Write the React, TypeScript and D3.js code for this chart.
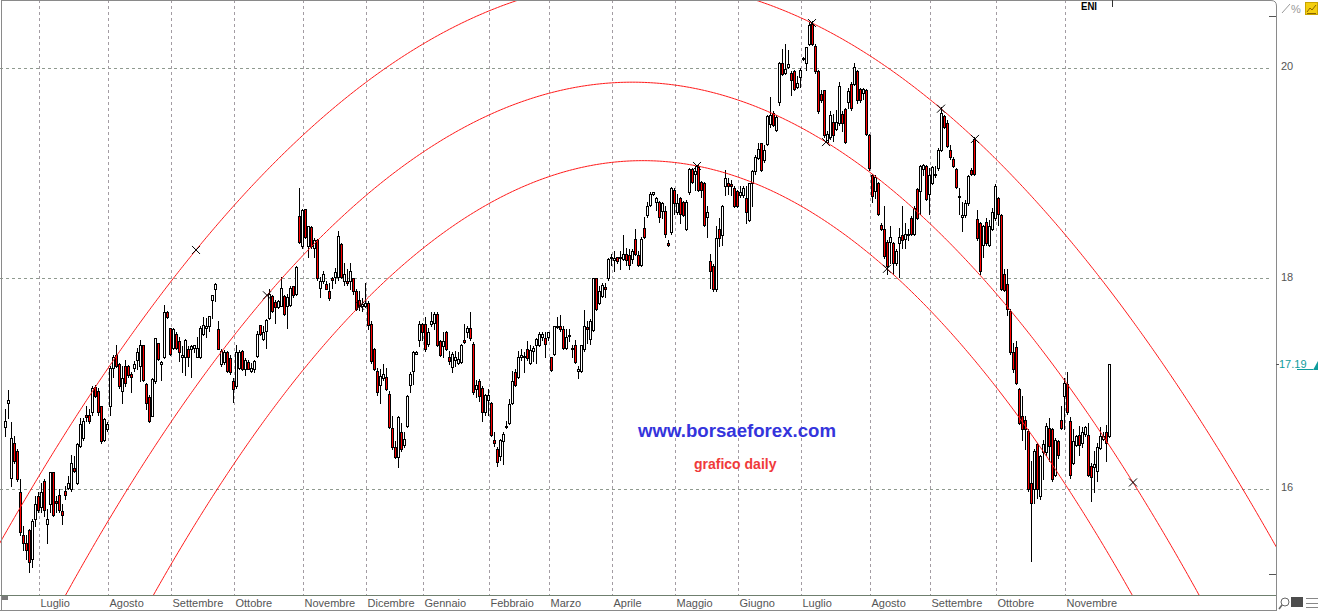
import React from 'react';
import * as d3 from 'd3';

// Daily candles [open, high, low, close], one per trading day (index 0 = first visible bar)
const CANDLES: [number, number, number, number][] = [
[16.59,16.76,16.51,16.65],[16.82,16.94,16.68,16.85],[16.11,16.64,16.03,16.49],[16.44,16.51,16.25,16.27],
[16.36,16.38,16.08,16.10],[15.97,16.10,15.57,15.59],[15.57,15.65,15.42,15.49],[15.49,15.57,15.34,15.42],
[15.61,15.62,15.21,15.31],[15.34,15.72,15.26,15.70],[15.72,15.94,15.65,15.86],[15.94,15.97,15.78,15.80],
[15.83,16.06,15.78,15.97],[16.08,16.10,15.75,15.80],[15.67,15.81,15.49,15.72],[15.86,16.16,15.78,16.16],
[16.16,16.16,15.75,15.76],[15.89,15.94,15.78,15.87],[15.95,16.00,15.78,15.80],[15.79,15.86,15.67,15.76],
[15.98,16.03,15.91,15.95],[16.01,16.13,16.00,16.06],[16.00,16.33,15.98,16.25],[16.20,16.32,16.16,16.17],
[16.06,16.44,16.05,16.43],[16.41,16.68,16.40,16.62],[16.49,16.68,16.47,16.65],[16.71,16.79,16.65,16.69],
[16.71,16.76,16.63,16.65],[16.73,16.98,16.71,16.96],[16.97,16.99,16.88,16.89],[16.93,16.96,16.71,16.73],
[16.79,16.79,16.44,16.46],[16.47,16.68,16.46,16.67],[16.57,16.64,16.55,16.62],[16.79,17.17,16.71,17.15],
[17.15,17.28,17.07,17.26],[17.28,17.37,17.16,17.17],[17.19,17.20,16.96,16.98],[16.93,17.17,16.82,17.06],
[17.17,17.23,16.98,17.01],[17.17,17.18,17.07,17.09],[17.10,17.11,16.92,17.07],[17.15,17.22,17.12,17.19],
[17.23,17.34,17.14,17.30],[17.17,17.42,17.03,17.37],[17.37,17.37,17.03,17.04],[17.00,17.01,16.76,16.82],
[16.88,16.90,16.64,16.65],[16.70,17.06,16.70,17.05],[17.03,17.44,17.01,17.44],[17.39,17.39,17.23,17.24],
[17.19,17.22,17.04,17.21],[17.26,17.75,17.25,17.68],[17.68,17.69,17.63,17.64],[17.53,17.53,17.28,17.29],
[17.34,17.53,17.33,17.52],[17.48,17.49,17.33,17.34],[17.41,17.45,17.22,17.30],[17.26,17.36,17.11,17.28],
[17.26,17.43,17.09,17.42],[17.33,17.36,17.17,17.26],[17.33,17.37,17.07,17.36],[17.34,17.37,17.30,17.37],
[17.26,17.45,17.26,17.34],[17.26,17.55,17.25,17.53],[17.48,17.64,17.47,17.56],[17.53,17.63,17.45,17.55],
[17.55,17.65,17.50,17.65],[17.80,17.85,17.63,17.85],[17.90,17.96,17.79,17.95],[17.52,17.60,17.33,17.33],
[17.19,17.33,17.17,17.31],[17.21,17.32,17.19,17.30],[17.30,17.31,17.11,17.12],[17.25,17.28,17.10,17.11],
[17.03,17.06,16.83,16.95],[16.98,17.37,16.96,17.30],[17.15,17.32,17.14,17.30],[17.31,17.32,17.13,17.14],
[17.14,17.25,17.09,17.23],[17.21,17.23,17.14,17.14],[17.12,17.20,17.11,17.15],[17.14,17.23,17.11,17.22],
[17.27,17.50,17.26,17.48],[17.56,17.56,17.47,17.48],[17.43,17.55,17.42,17.49],[17.50,17.62,17.34,17.61],
[17.63,17.90,17.62,17.86],[17.84,17.85,17.68,17.69],[17.78,17.80,17.58,17.73],[17.73,17.80,17.72,17.79],
[17.74,18.02,17.74,17.91],[17.84,17.85,17.66,17.67],[17.74,17.86,17.53,17.83],[17.75,17.93,17.74,17.91],
[17.93,17.93,17.83,17.85],[17.86,18.12,17.85,18.11],[18.60,18.86,18.34,18.35],[18.31,18.66,18.29,18.65],
[18.66,18.66,18.39,18.40],[18.31,18.50,18.21,18.50],[18.49,18.50,18.29,18.31],[18.29,18.39,18.21,18.37],
[18.37,18.38,17.99,18.01],[17.91,18.02,17.83,17.98],[17.98,18.07,17.96,18.05],[17.95,17.98,17.90,17.90],
[17.88,17.96,17.80,17.82],[18.01,18.02,17.91,17.99],[18.02,18.10,17.96,18.06],[18.02,18.45,17.99,18.41],
[18.33,18.34,18.01,18.02],[17.98,18.15,17.94,18.05],[17.98,18.09,17.94,17.96],[17.98,18.15,17.90,18.07],
[18.01,18.01,17.86,17.88],[17.88,17.90,17.70,17.71],[17.80,17.88,17.70,17.74],[17.74,17.82,17.69,17.76],
[17.74,17.96,17.73,17.77],[17.77,17.79,17.52,17.56],[17.57,17.60,17.20,17.22],[17.33,17.34,17.13,17.14],
[17.12,17.15,16.90,16.92],[16.99,17.14,16.82,17.08],[17.06,17.19,17.04,17.10],[17.07,17.15,16.94,16.95],
[16.91,16.93,16.58,16.59],[16.58,16.70,16.38,16.40],[16.40,16.46,16.30,16.31],[16.31,16.70,16.21,16.69],
[16.54,16.63,16.36,16.38],[16.42,16.54,16.40,16.48],[16.60,16.90,16.59,16.89],[16.99,17.11,16.92,17.10],
[17.12,17.31,17.00,17.30],[17.29,17.31,17.29,17.30],[17.42,17.60,17.36,17.57],[17.57,17.58,17.42,17.49],
[17.57,17.64,17.31,17.33],[17.38,17.53,17.36,17.49],[17.57,17.68,17.55,17.60],[17.58,17.68,17.52,17.67],
[17.67,17.68,17.36,17.37],[17.41,17.42,17.27,17.28],[17.36,17.49,17.26,17.41],[17.49,17.50,17.32,17.33],
[17.26,17.31,17.19,17.22],[17.16,17.30,17.11,17.29],[17.23,17.31,17.17,17.26],[17.20,17.30,17.19,17.24],
[17.21,17.38,17.20,17.37],[17.42,17.57,17.39,17.40],[17.49,17.55,17.45,17.53],[17.53,17.68,17.42,17.44],
[17.38,17.40,16.91,16.92],[16.95,17.04,16.88,16.99],[17.03,17.05,16.84,16.89],[16.96,16.98,16.65,16.73],
[16.73,16.91,16.71,16.90],[16.85,16.95,16.71,16.90],[16.82,16.83,16.51,16.52],[16.47,16.54,16.41,16.44],
[16.38,16.40,16.22,16.26],[16.32,16.48,16.28,16.47],[16.46,16.54,16.24,16.53],[16.59,16.65,16.58,16.60],
[16.63,16.86,16.62,16.81],[16.82,17.12,16.81,17.03],[17.11,17.14,16.98,16.99],[17.07,17.31,17.06,17.26],
[17.26,17.33,17.23,17.28],[17.26,17.30,17.11,17.27],[17.33,17.41,17.23,17.25],[17.20,17.37,17.19,17.32],
[17.31,17.36,17.22,17.34],[17.37,17.44,17.20,17.43],[17.37,17.49,17.36,17.48],[17.45,17.49,17.42,17.48],
[17.44,17.49,17.26,17.38],[17.45,17.49,17.42,17.49],[17.26,17.26,17.12,17.13],[17.29,17.55,17.28,17.55],
[17.54,17.64,17.53,17.55],[17.55,17.66,17.50,17.52],[17.52,17.55,17.33,17.34],[17.34,17.52,17.33,17.45],
[17.46,17.52,17.41,17.47],[17.34,17.37,17.26,17.33],[17.37,17.42,17.20,17.21],[17.12,17.17,17.06,17.14],
[17.12,17.37,17.11,17.37],[17.33,17.70,17.31,17.55],[17.54,17.60,17.39,17.52],[17.43,17.62,17.38,17.60],
[17.51,18.01,17.50,18.01],[18.01,18.01,17.70,17.71],[17.77,17.93,17.76,17.88],[17.84,17.96,17.83,17.94],
[17.92,17.96,17.83,17.90],[18.01,18.20,17.99,18.19],[18.20,18.24,18.13,18.21],[18.18,18.26,18.07,18.20],
[18.21,18.21,18.15,18.17],[18.20,18.26,18.09,18.21],[18.19,18.42,18.18,18.24],[18.24,18.29,18.13,18.18],
[18.23,18.28,18.09,18.13],[18.19,18.28,18.15,18.26],[18.38,18.47,18.23,18.24],[18.23,18.26,18.12,18.13],
[18.13,18.40,18.12,18.38],[18.48,18.59,18.39,18.40],[18.61,18.73,18.59,18.69],[18.70,18.82,18.69,18.81],
[18.81,18.82,18.80,18.82],[18.73,18.78,18.65,18.77],[18.73,18.74,18.54,18.59],[18.64,18.73,18.58,18.72],
[18.64,18.69,18.40,18.43],[18.34,18.37,18.31,18.32],[18.44,18.87,18.43,18.86],[18.84,18.86,18.62,18.72],
[18.63,18.81,18.62,18.72],[18.77,18.78,18.53,18.62],[18.73,18.74,18.60,18.61],[18.47,18.75,18.46,18.73],
[18.82,19.05,18.81,19.04],[19.04,19.05,18.91,18.92],[19.00,19.07,18.84,19.02],[19.07,19.09,18.83,18.84],
[18.92,18.93,18.78,18.84],[18.91,18.92,18.50,18.51],[18.59,18.69,18.40,18.63],[18.17,18.24,17.91,18.07],
[18.12,18.14,17.88,17.90],[17.90,18.50,17.88,18.39],[18.47,18.58,18.31,18.39],[18.42,18.70,18.32,18.69],
[18.88,19.03,18.80,18.96],[18.91,18.96,18.81,18.88],[18.90,18.94,18.80,18.88],[18.86,18.88,18.68,18.69],
[18.83,18.84,18.68,18.69],[18.80,18.88,18.78,18.82],[18.80,18.88,18.78,18.86],[18.77,18.88,18.53,18.63],
[18.56,18.91,18.55,18.91],[18.91,19.03,18.69,19.02],[19.02,19.18,19.00,19.16],[19.15,19.29,19.14,19.23],
[19.29,19.29,19.02,19.03],[19.13,19.27,19.11,19.22],[19.28,19.56,19.27,19.55],[19.47,19.73,19.44,19.56],
[19.58,19.59,19.45,19.46],[19.41,19.56,19.40,19.54],[19.68,20.06,19.65,20.05],[20.05,20.18,19.94,19.95],
[19.96,20.23,19.95,19.99],[20.01,20.17,20.00,20.04],[19.96,19.97,19.75,19.89],[19.97,19.98,19.79,19.80],
[19.82,19.93,19.81,19.86],[19.92,20.00,19.82,19.98],[20.09,20.11,20.08,20.10],[20.05,20.20,19.98,20.20],
[20.23,20.44,20.22,20.41],[20.42,20.45,20.22,20.23],[20.21,20.23,19.96,19.97],[19.97,19.98,19.58,19.59],
[19.76,19.79,19.68,19.70],[19.79,19.79,19.35,19.37],[19.30,19.40,19.29,19.38],[19.35,19.59,19.33,19.56],
[19.49,19.57,19.31,19.37],[19.42,19.60,19.41,19.49],[19.48,19.87,19.46,19.83],[19.57,19.59,19.40,19.48],
[19.61,19.62,19.29,19.30],[19.68,19.81,19.62,19.78],[19.85,19.87,19.60,19.62],[19.85,20.05,19.84,20.01],
[19.97,19.98,19.67,19.70],[19.80,19.81,19.68,19.70],[19.77,19.81,19.71,19.80],[19.79,19.80,19.37,19.38],
[19.37,19.38,19.03,19.05],[18.99,19.00,18.73,18.79],[18.83,18.99,18.77,18.97],[18.91,18.92,18.61,18.62],
[18.51,18.53,18.46,18.47],[18.47,18.69,18.20,18.22],[18.35,18.37,18.05,18.12],[18.35,18.50,18.15,18.40],
[18.34,18.35,18.05,18.15],[18.15,18.28,18.13,18.26],[18.34,18.48,18.02,18.40],[18.42,18.69,18.29,18.37],
[18.38,18.53,18.29,18.43],[18.42,18.47,18.37,18.43],[18.58,18.60,18.42,18.43],[18.43,18.69,18.42,18.67],
[18.85,18.86,18.57,18.58],[18.83,19.08,18.62,19.07],[19.04,19.09,18.99,19.08],[19.07,19.08,18.75,18.76],
[18.81,19.05,18.62,18.99],[18.91,19.07,18.90,19.06],[19.00,19.07,18.97,18.99],[19.05,19.24,19.03,19.22],
[19.22,19.63,19.21,19.58],[19.55,19.56,19.43,19.44],[19.48,19.51,19.25,19.26],[19.22,19.27,19.14,19.16],
[19.14,19.16,19.06,19.07],[19.04,19.05,18.86,18.87],[18.79,18.86,18.62,18.78],[18.59,18.73,18.45,18.61],
[18.61,18.75,18.59,18.72],[18.72,18.99,18.70,18.98],[19.03,19.05,18.99,19.00],[19.33,19.35,18.99,19.00],
[18.57,18.65,18.37,18.39],[18.53,18.54,18.05,18.07],[18.32,18.51,18.21,18.50],[18.54,18.58,18.32,18.34],
[18.32,18.56,18.31,18.50],[18.47,18.67,18.46,18.63],[18.58,18.90,18.56,18.88],[18.77,18.78,18.51,18.62],
[18.61,18.62,17.89,17.90],[18.05,18.09,17.88,17.89],[17.95,18.09,17.66,17.71],[17.69,17.71,17.29,17.30],
[17.30,17.39,17.11,17.14],[17.35,17.41,17.00,17.01],[16.95,16.96,16.62,16.63],[16.70,16.89,16.47,16.57],
[16.66,16.70,16.38,16.57],[16.55,16.57,15.98,16.00],[16.06,16.27,15.32,15.87],[16.00,16.38,15.87,16.36],
[16.43,16.44,15.92,16.00],[15.94,16.33,15.91,16.32],[16.35,16.47,16.10,16.43],[16.35,16.63,16.33,16.60],
[16.58,16.68,16.27,16.41],[16.57,16.58,16.08,16.10],[16.14,16.49,16.13,16.47],[16.46,16.47,16.30,16.33],
[16.66,16.79,16.57,16.58],[16.89,17.06,16.57,17.01],[17.00,17.11,16.72,16.73],[16.65,16.69,16.11,16.14],
[16.25,16.57,16.24,16.46],[16.42,16.52,16.41,16.51],[16.52,16.60,16.33,16.42],[16.44,16.59,16.40,16.54],
[16.53,16.60,16.51,16.59],[16.52,16.63,16.13,16.14],[16.22,16.25,15.89,16.12],[16.21,16.36,15.97,16.24],
[16.17,16.44,16.08,16.40],[16.39,16.59,16.38,16.51],[16.48,16.54,16.47,16.51],[16.54,16.61,16.27,16.44],
[16.51,17.19,16.50,17.19],
];

const MONTH_LABELS = ['Luglio', 'Agosto', 'Settembre', 'Ottobre', 'Novembre', 'Dicembre', 'Gennaio', 'Febbraio', 'Marzo', 'Aprile', 'Maggio', 'Giugno', 'Luglio', 'Agosto', 'Settembre', 'Ottobre', 'Novembre'];
// index of the first trading day of each month
const MONTH_START = [12, 35, 56, 77, 100, 121, 140, 162, 182, 203, 224, 245, 266, 289, 309, 331, 354];
const Y_TICKS = [16, 18, 20];
const Y_EDGE_TICKS = [20.5, 15.2];

// each arc is a parabola through three anchor points [dayIndex, price]
const ARC_A: [number, number][] = [[63.67, 18.274], [269, 20.43], [323.33, 19.329]];
const ARC_B: [number, number][] = [[87.33, 17.843], [273.67, 19.299], [376, 16.065]];
const ARC_C: [number, number][] = [[118.33, 17.744], [230.67, 19.072], [294, 18.095]];
const MARKS_A = [63.67, 269, 312, 323.33];
const MARKS_B = [87.33, 273.67, 376];
const MARKS_C = [118.33, 230.67, 294];

const W = 1319;
const H = 611;
const PLOT_R = 1276;
const PLOT_B = 596;

function parabola(p: [number, number][]) {
  const [[x0, y0], [x1, y1], [x2, y2]] = p;
  return (x: number) =>
    y0 * ((x - x1) * (x - x2)) / ((x0 - x1) * (x0 - x2)) +
    y1 * ((x - x0) * (x - x2)) / ((x1 - x0) * (x1 - x2)) +
    y2 * ((x - x0) * (x - x1)) / ((x2 - x0) * (x2 - x1));
}

export default function App() {
  const x = d3.scaleLinear().domain([0, 368]).range([5, 1109]);
  const y = d3.scaleLinear().domain([16, 20]).range([489.3, 68.3]);
  const yr = (v: number) => Math.round(y(v));

  const idxRange = d3.range(x.invert(-5), x.invert(PLOT_R + 5), 0.5);
  const arcs = [ARC_A, ARC_B, ARC_C].map((a) => parabola(a));
  const line = d3.line<number>().x((d) => x(d));
  const marks: [number, number][] = [];
  [MARKS_A, MARKS_B, MARKS_C].forEach((m, k) => m.forEach((i) => marks.push([i, arcs[k](i)])));

  const last = CANDLES[CANDLES.length - 1][3];
  const lastY = y(last);
  const font = '"Liberation Sans", Arial, sans-serif';

  return (
    <svg width={W} height={H} style={{ position: 'absolute', left: 0, top: 0, background: '#fff' }} fontFamily={font}>
      <defs>
        <clipPath id="plot"><rect x={0} y={0} width={PLOT_R} height={PLOT_B} /></clipPath>
      </defs>
      <rect x={0} y={0} width={W} height={H} fill="#fff" />
      {/* grid */}
      <g shapeRendering="crispEdges">
        {Y_TICKS.map((v) => (
          <line key={v} x1={0} x2={1272} y1={Math.floor(y(v)) + 0.5} y2={Math.floor(y(v)) + 0.5} stroke="#8f9a8f" strokeDasharray="3,3" />
        ))}
        {MONTH_START.map((s, k) => (
          <line key={k} x1={x(s) - 1.5} x2={x(s) - 1.5} y1={0} y2={PLOT_B} stroke="#a39ca3" strokeDasharray="3,3" />
        ))}
      </g>
      {/* watermark */}
      <text x={638} y={437} fontSize={18} fontWeight="bold" fill="#3434dc" textLength={198} lengthAdjust="spacingAndGlyphs">www.borsaeforex.com</text>
      <text x={694} y={469} fontSize={14} fontWeight="bold" fill="#f03a3a">grafico daily</text>
      {/* candles */}
      <g shapeRendering="crispEdges">
        {CANDLES.map(([o, h, l, c], i) => {
          const cx = Math.round(x(i));
          const top = yr(Math.max(o, c));
          const bot = yr(Math.min(o, c));
          return (
            <g key={i}>
              <line x1={cx + 0.5} x2={cx + 0.5} y1={yr(h)} y2={yr(l) + 1} stroke="#000" />
              <rect x={cx - 0.5} y={top + 0.5} width={2} height={Math.max(bot - top, 1)} fill={c >= o ? '#fff' : '#f00'} stroke="#000" />
            </g>
          );
        })}
      </g>
      {/* arcs */}
      <g clipPath="url(#plot)">
        {arcs.map((f, k) => (
          <path key={k} d={line.y((d) => y(f(d)))(idxRange) || ''} fill="none" stroke="#ff1a1a" strokeWidth={1} />
        ))}
        {marks.map(([i, v], k) => {
          const px = x(i), py = y(v);
          return (
            <g key={k} stroke="#000" strokeWidth={1}>
              <line x1={px - 4} y1={py - 4} x2={px + 4} y2={py + 4} />
              <line x1={px - 4} y1={py + 4} x2={px + 4} y2={py - 4} />
            </g>
          );
        })}
      </g>
      {/* frame */}
      <g shapeRendering="crispEdges" fill="none">
        <path d={`M1.5,${H} V0.5 H1271`} stroke="#8a8a8a" />
        <path d={`M1271,0.5 Q${PLOT_R + 0.5},0.5 ${PLOT_R + 0.5},6 V${H}`} stroke="#8a8a8a" shapeRendering="auto" />
        <line x1={0} x2={PLOT_R} y1={PLOT_B - 0.5} y2={PLOT_B - 0.5} stroke="#6f7f6f" />
        <line x1={0} x2={PLOT_R + 1} y1={H - 0.5} y2={H - 0.5} stroke="#8a8a8a" />
        <rect x={2} y={596} width={6} height={4} fill="#7a7a7a" stroke="none" />
        <line x1={1112.5} x2={1112.5} y1={0} y2={7} stroke="#333" />
      </g>
      {/* y axis */}
      {Y_TICKS.map((v) => (
        <text key={v} x={1281} y={y(v) + 2} fontSize={11} fill="#555">{v}</text>
      ))}
      {Y_EDGE_TICKS.map((v) => (
        <line key={v} x1={1269} x2={PLOT_R} y1={Math.round(y(v)) + 0.5} y2={Math.round(y(v)) + 0.5} stroke="#555" shapeRendering="crispEdges" />
      ))}
      <line x1={PLOT_R} x2={1279} y1={Math.round(lastY) + 0.5} y2={Math.round(lastY) + 0.5} stroke="#555" shapeRendering="crispEdges" />
      <text x={1279} y={lastY + 4} fontSize={11} fill="#0e9c9c">{d3.format('.2f')(last)}</text>
      <line x1={1297} x2={1313} y1={lastY + 5.5} y2={lastY + 5.5} stroke="#0e9c9c" shapeRendering="crispEdges" />
      <path d={`M1313,${lastY + 6} L1318,${lastY + 6} L1318,${lastY - 3} Z`} fill="#0e9c9c" />
      {/* x axis labels */}
      {MONTH_START.map((s, k) => (
        <text key={k} x={x(s) - 0.5} y={607} fontSize={11} fill="#555">{MONTH_LABELS[k]}</text>
      ))}
      {/* title */}
      <text x={1081} y={10} fontSize={11} fontWeight="bold" fill="#000" textLength={16} lengthAdjust="spacingAndGlyphs">ENI</text>
      {/* toolbar icons */}
      <line x1={1282} y1={13} x2={1290} y2={4} stroke="#999" />
      <text x={1291} y={13} fontSize={11} fill="#999">%</text>
      <rect x={1305.5} y={2.5} width={12} height={12} fill="#f4cf10" stroke="#c9a400" />
      <path d="M1307,12 L1310,8 L1312,10 L1316,5 M1307,13.5 H1316" stroke="#8a6400" fill="none" />
      <circle cx={1285} cy={602} r={4} fill="none" stroke="#666" />
      <line x1={1282} y1={605} x2={1279} y2={609} stroke="#666" strokeWidth={1.5} />
      <rect x={1291} y={597} width={12} height={10} fill="#4d4d4d" />
      <g stroke="#888" shapeRendering="crispEdges">
        <line x1={1306} x2={1318} y1={598.5} y2={598.5} />
        <line x1={1306} x2={1318} y1={603.5} y2={603.5} />
        <line x1={1306} x2={1318} y1={607.5} y2={607.5} />
      </g>
    </svg>
  );
}
